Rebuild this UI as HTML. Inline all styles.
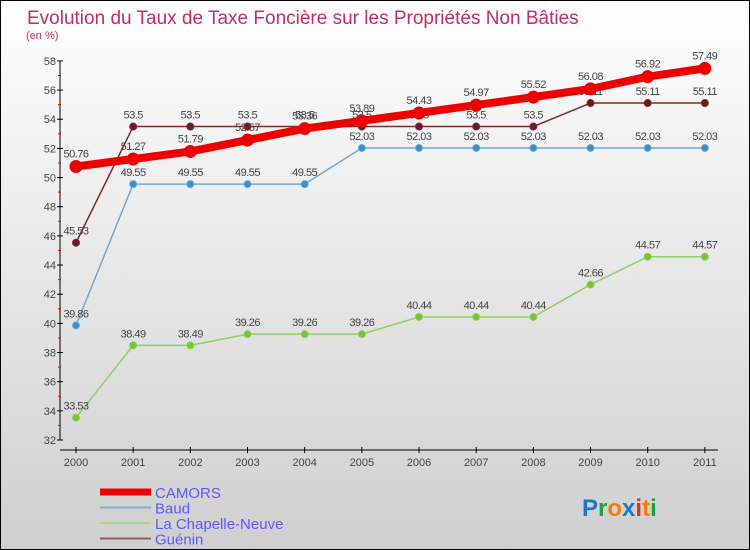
<!DOCTYPE html>
<html><head><meta charset="utf-8">
<style>
body{margin:0}
#wrap{position:relative;width:748px;height:548px;border:1px solid #000;background:linear-gradient(#ffffff,#cfcfcf);font-family:"Liberation Sans",sans-serif;overflow:hidden}
svg{position:absolute;left:-1px;top:-1px}
</style></head><body>
<div id="wrap">
<svg id="chart" width="750" height="550"></svg>
</div>
<script>
const years=["2000","2001","2002","2003","2004","2005","2006","2007","2008","2009","2010","2011"];
const camors=[50.76,51.27,51.79,52.57,53.36,53.89,54.43,54.97,55.52,56.08,56.92,57.49];
const baud=[39.86,49.55,49.55,49.55,49.55,52.03,52.03,52.03,52.03,52.03,52.03,52.03];
const chapelle=[33.53,38.49,38.49,39.26,39.26,39.26,40.44,40.44,40.44,42.66,44.57,44.57];
const guenin=[45.53,53.5,53.5,53.5,53.5,53.5,53.5,53.5,53.5,55.11,55.11,55.11];
const yTicks=[32,34,36,38,40,42,44,46,48,50,52,54,56,58];
const NS="http://www.w3.org/2000/svg";
const svg=document.getElementById('chart');
const X=i=>76+i*57.17;
const Y=v=>440-(v-32)*14.58;
function el(t,a,txt){const e=document.createElementNS(NS,t);for(const k in a)e.setAttribute(k,a[k]);if(txt!==undefined)e.textContent=txt;svg.appendChild(e);return e;}
let t=el('text',{x:27,y:24,fill:'#c0305a','font-size':19},'Evolution du Taux de Taxe Foncière sur les Propriétés Non Bâties');

t=el('text',{x:26,y:39,fill:'#c0305a','font-size':11},'(en %)');

// axes
let a=el('line',{x1:60,y1:Y(58),x2:60,y2:Y(32),stroke:'#000','stroke-width':1});

a=el('line',{x1:60,y1:450,x2:718,y2:450,stroke:'#000','stroke-width':1});

yTicks.forEach((v,i)=>{
 el('line',{x1:57,y1:Y(v),x2:63,y2:Y(v),stroke:'#000'});
 if(i<yTicks.length-1)el('line',{x1:58,y1:Y(v+1),x2:61,y2:Y(v+1),stroke:'#e00'});
 const l=el('text',{x:56,y:Y(v)+4,'text-anchor':'end','font-size':11,fill:'#444'},String(v));
 
});
years.forEach((y,i)=>{
 el('line',{x1:X(i),y1:447,x2:X(i),y2:453,stroke:'#000'});
 const l=el('text',{x:X(i),y:466,'text-anchor':'middle','font-size':11,fill:'#444'},y);
 
});
function series(vals,color,w,r,fill,name,lblOff){
 const p=el('polyline',{points:vals.map((v,i)=>X(i)+','+Y(v)).join(' '),fill:'none',stroke:color,'stroke-width':w,'stroke-linejoin':'round'});
 
 vals.forEach((v,i)=>{
  const c=el('circle',{cx:X(i),cy:Y(v),r:r,fill:fill,stroke:color,'stroke-width':1});
  
  const l=el('text',{x:X(i),y:Y(v)+lblOff,'text-anchor':'middle','font-size':11,fill:'#444','letter-spacing':'-0.5'},String(v));
  
 });
}
series(chapelle,'#8fd060',1.5,3.5,'#70c830','la-chapelle-neuve',-8);
series(baud,'#70a8d0',1.5,3.5,'#3a8ed0','baud',-8);
series(guenin,'#7a2a30',1.5,3.5,'#6a1a20','guenin',-8);
series(camors,'#ee0000',8,6,'#ee0000','camors',-9);
// legend
const leg=[['CAMORS','#ee0000',7],['Baud','#80aed0',2],['La Chapelle-Neuve','#a8d880',2],['Guénin','#906060',2]];
leg.forEach((d,i)=>{
 const y=492+i*15.5;
 const l=el('line',{x1:100,y1:y,x2:151,y2:y,stroke:d[1],'stroke-width':d[2]});
 
 const tx=el('text',{x:155,y:y+6,'font-size':15,fill:'#5a5aff'},d[0]);
 
});
const logo=el('text',{x:582,y:516,'font-size':24,'font-weight':'bold'},'');

[['P','#1a78d0'],['r','#20a040'],['o','#f08000'],['x','#1a78d0'],['i','#e03020'],['t','#f08000'],['i','#20a040']].forEach(c=>{
 const s=document.createElementNS(NS,'tspan');s.setAttribute('fill',c[1]);s.textContent=c[0];logo.appendChild(s);
});
</script>
</body></html>
